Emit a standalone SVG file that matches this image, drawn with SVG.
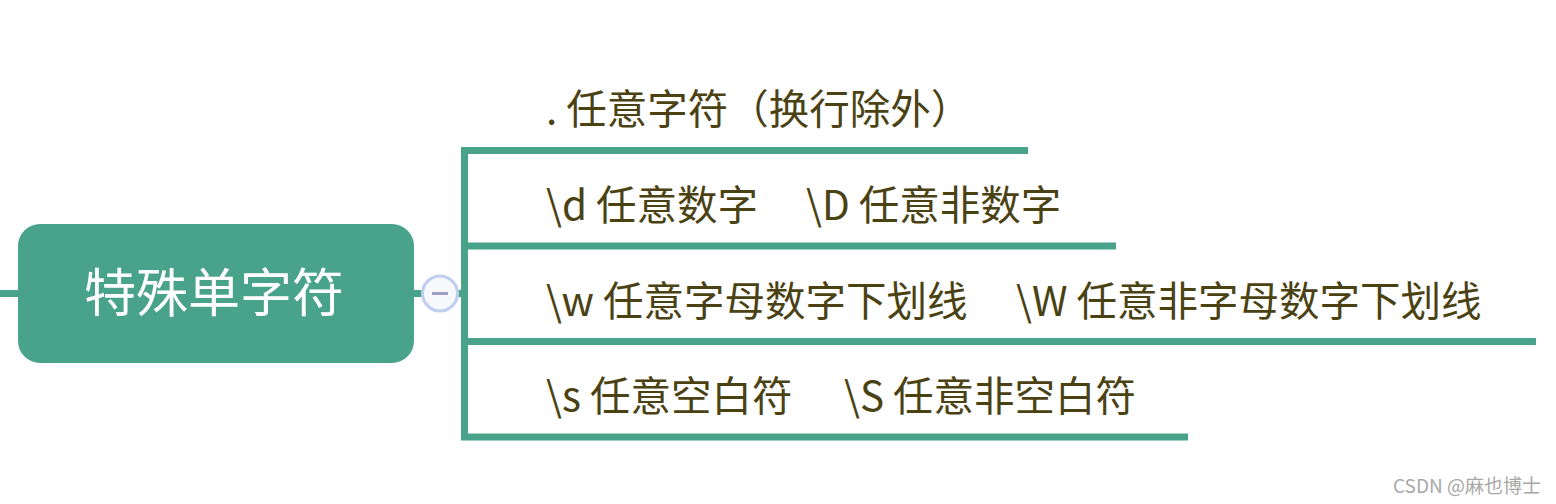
<svg xmlns="http://www.w3.org/2000/svg" width="1556" height="504" viewBox="0 0 1556 504">
<style>
.conn{fill:none;stroke:#49a28a;stroke-width:7;stroke-linejoin:miter;stroke-linecap:butt}
.lbl{font-family:"Noto Sans CJK SC","Noto Sans",sans-serif;font-size:40.5px;fill:#4b4214}
.root{font-family:"Noto Sans CJK SC","Noto Sans",sans-serif;font-size:52px;fill:#ffffff}
</style>
<rect width="1556" height="504" fill="#ffffff"/>
<g id="connectors">
<path class="conn" d="M0 293.5 H18"/>
<path class="conn" d="M414 293.5 H422"/>
<path class="conn" d="M458 293.5 H464.5 V150.5 H1028"/>
<path class="conn" d="M458 293.5 H464.5 V246 H1116"/>
<path class="conn" d="M458 293.5 H464.5 V341.5 H1536"/>
<path class="conn" d="M458 293.5 H464.5 V437 H1188"/>
</g>
<g id="root">
<rect x="18" y="224" width="396" height="139" rx="22" fill="#49a28a"/>
<text class="root" x="214" y="312" text-anchor="middle">特殊单字符</text>
</g>
<g id="collapse">
<circle cx="440" cy="293.5" r="17.5" fill="#f7f8fc" stroke="#bfcdef" stroke-width="3"/>
<path d="M432 293.5 H448" stroke="#9aa0c8" stroke-width="3"/>
</g>
<g id="n1"><text class="lbl" x="546" y="124">. 任意字符（换行除外）</text></g>
<g id="n2"><text class="lbl" x="546" y="220">\d 任意数字<tspan x="806">\D 任意非数字</tspan></text></g>
<g id="n3"><text class="lbl" x="546" y="316">\w 任意字母数字下划线<tspan x="1016">\W 任意非字母数字下划线</tspan></text></g>
<g id="n4"><text class="lbl" x="546" y="411">\s 任意空白符<tspan x="844">\S 任意非空白符</tspan></text></g>
<text x="1541" y="493" text-anchor="end" font-family="'Noto Sans CJK SC','Noto Sans',sans-serif" font-size="19" fill="#a8a8a8">CSDN @麻也博士</text>
</svg>
